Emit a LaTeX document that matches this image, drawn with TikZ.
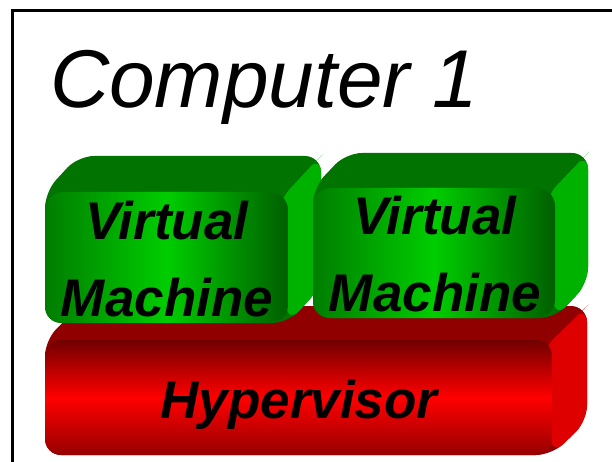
\documentclass[tikz,border=0pt]{standalone}
\usepackage{fontspec}
\setmainfont{Liberation Sans}
\usepackage{tikz}

\definecolor{vmtop}{RGB}{0,115,0}
\definecolor{vmside}{RGB}{0,178,0}
\definecolor{vmleft}{RGB}{0,125,0}
\definecolor{vmright}{RGB}{0,95,0}
\definecolor{vmlight}{RGB}{0,205,0}
\definecolor{hvtop}{RGB}{145,0,0}
\definecolor{hvside}{RGB}{222,0,0}
\definecolor{hvdark}{RGB}{112,0,0}
\definecolor{hvbottom}{RGB}{150,0,0}
\definecolor{hvlight}{RGB}{255,0,0}

% extruded back part of a slab: front corners, depth, top and side colour
\newcommand{\slab}[8]{%
	\fill[#7,rounded corners=16pt] (#1,#4) -- (#1,#2) -- (#1+#5,#2-#6) -- (#3+#5,#2-#6) -- (#3+#5,#4-#6) -- (#3,#4) -- cycle;
	\fill[#8,rounded corners=16pt] (#3-10,#2+10) -- (#3+#5-10,#2-#6+10) -- (#3+#5,#2-#6) -- (#3+#5,#4-#6) -- (#3,#4) -- cycle;
}

\tikzset{
	frame/.style={line width=3pt},
	title/.style={font=\itshape\fontsize{82}{98}\selectfont,inner sep=0pt},
	boxtext/.style={font=\bfseries\itshape\fontsize{53}{77}\selectfont,align=center,inner sep=0pt},
	vmfront/.style={rounded corners=18pt,left color=vmleft,right color=vmright,middle color=vmlight},
	hvfront/.style={rounded corners=16pt,top color=hvdark,bottom color=hvbottom,middle color=hvlight}
}

\begin{document}
\begin{tikzpicture}[x=1pt,y=-1pt]
	\useasboundingbox (0,0) rectangle (612,462);
	\clip (0,0) rectangle (612,462);
	\fill[white] (0,0) rectangle (612,462);
	\draw[frame] (12.5,10.5) rectangle (640,490);
	\node[title,anchor=base west] (comp) at (50,108) {Computer 1};
	% hypervisor
	\slab{45}{340}{552}{455}{35}{34}{hvtop}{hvside}
	\shade[hvfront] (45,340) rectangle (552,455);
	\node[boxtext,anchor=base] (hv) at (299,418) {Hypervisor};
	% virtual machines
	\slab{45}{192}{288}{323}{33}{36}{vmtop}{vmside}
	\shade[vmfront] (45,192) rectangle (288,323);
	\node[boxtext] (vm1) at (167,259) {Virtual\\Machine};
	\slab{313}{188}{555}{318}{33}{35}{vmtop}{vmside}
	\shade[vmfront] (313,188) rectangle (555,318);
	\node[boxtext] (vm2) at (435,254) {Virtual\\Machine};
\end{tikzpicture}
\end{document}
